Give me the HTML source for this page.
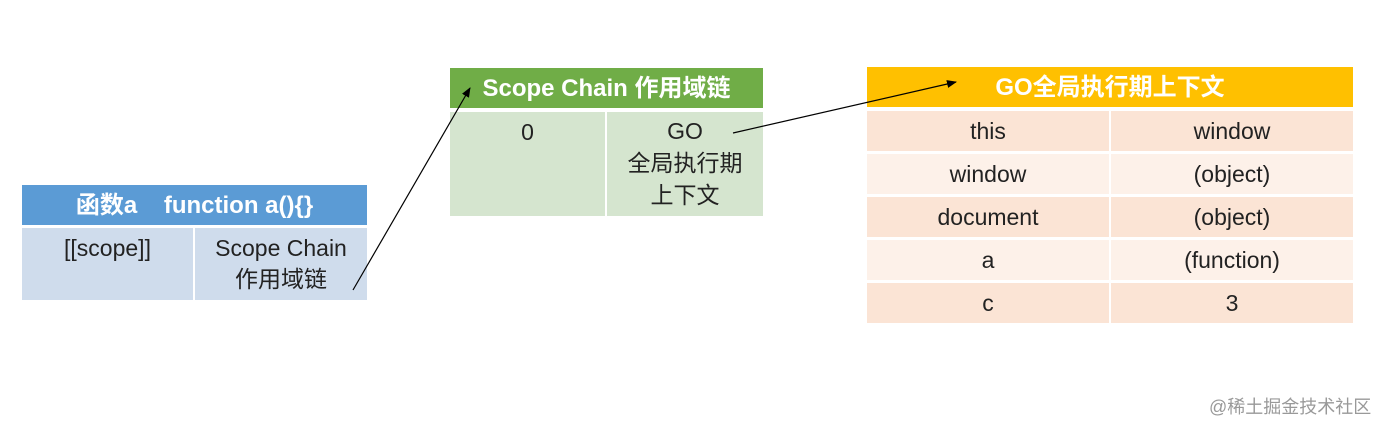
<!DOCTYPE html>
<html><head><meta charset="utf-8"><style>
html,body{margin:0;padding:0;width:1384px;height:430px;background:#fff;overflow:hidden;position:relative;font-family:"Liberation Sans","Noto Sans CJK SC",sans-serif;}
.b{position:absolute;box-sizing:border-box;text-align:center;color:#222;font-size:23px;line-height:27px;}
.h{color:#fff;font-weight:bold;font-size:24px;display:flex;align-items:center;justify-content:center;}
</style></head><body>
<div class="b h" style="left:22px;top:185px;width:345px;height:40px;background:#5b9bd5;">函数a&nbsp;&nbsp;&nbsp;&nbsp;function a(){}</div>
<div class="b" style="left:22px;top:228px;width:171px;height:72px;background:#cfdcec;padding-top:7px;">[[scope]]</div>
<div class="b" style="left:195px;top:228px;width:172px;height:72px;background:#cfdcec;padding-top:5px;line-height:31px;">Scope Chain<br>作用域链</div>
<div class="b h" style="left:450px;top:68px;width:313px;height:40px;background:#70ad47;">Scope Chain 作用域链</div>
<div class="b" style="left:450px;top:112px;width:155px;height:104px;background:#d5e5cf;padding-top:4px;line-height:32px;">0</div>
<div class="b" style="left:607px;top:112px;width:156px;height:104px;background:#d5e5cf;padding-top:3px;line-height:32px;">GO<br>全局执行期<br>上下文</div>
<div class="b h" style="left:867px;top:67px;width:486px;height:40px;background:#ffc000;">GO全局执行期上下文</div>
<div class="b" style="left:867px;top:111px;width:242px;height:40px;background:#fbe4d5;line-height:40px;">this</div>
<div class="b" style="left:1111px;top:111px;width:242px;height:40px;background:#fbe4d5;line-height:40px;">window</div>
<div class="b" style="left:867px;top:154px;width:242px;height:40px;background:#fdf1e9;line-height:40px;">window</div>
<div class="b" style="left:1111px;top:154px;width:242px;height:40px;background:#fdf1e9;line-height:40px;">(object)</div>
<div class="b" style="left:867px;top:197px;width:242px;height:40px;background:#fbe4d5;line-height:40px;">document</div>
<div class="b" style="left:1111px;top:197px;width:242px;height:40px;background:#fbe4d5;line-height:40px;">(object)</div>
<div class="b" style="left:867px;top:240px;width:242px;height:40px;background:#fdf1e9;line-height:40px;">a</div>
<div class="b" style="left:1111px;top:240px;width:242px;height:40px;background:#fdf1e9;line-height:40px;">(function)</div>
<div class="b" style="left:867px;top:283px;width:242px;height:40px;background:#fbe4d5;line-height:40px;">c</div>
<div class="b" style="left:1111px;top:283px;width:242px;height:40px;background:#fbe4d5;line-height:40px;">3</div>
<svg width="1384" height="430" style="position:absolute;left:0;top:0;">
<defs><marker id="m" markerWidth="10" markerHeight="8" refX="9" refY="4" orient="auto" markerUnits="userSpaceOnUse"><path d="M0,0L10,4L0,8z" fill="#000"/></marker></defs>
<line x1="353" y1="290" x2="470" y2="88" stroke="#000" stroke-width="1.2" marker-end="url(#m)"/>
<line x1="733" y1="133" x2="956" y2="82" stroke="#000" stroke-width="1.2" marker-end="url(#m)"/>
</svg>
<div style="position:absolute;left:1209px;top:393px;font-size:18px;color:#999;font-family:'Liberation Sans','Noto Sans CJK SC',sans-serif;">@稀土掘金技术社区</div>
</body></html>
